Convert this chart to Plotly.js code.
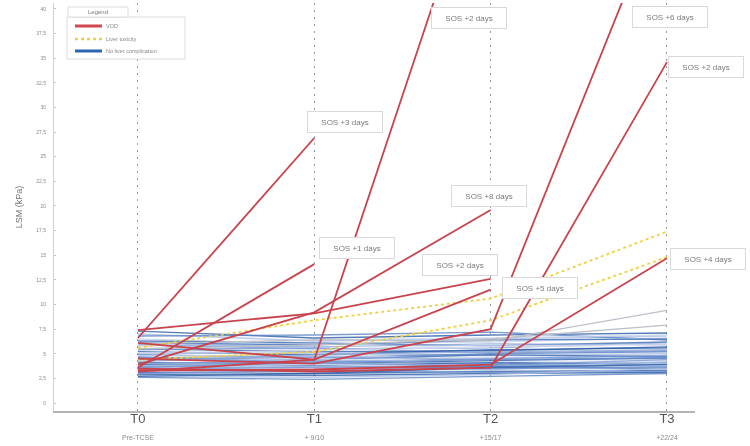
<!DOCTYPE html>
<html>
<head>
<meta charset="utf-8">
<script src="https://cdn.plot.ly/plotly-3.0.1.min.js"></script>
<style>
  html, body { margin: 0; padding: 0; background: #fff; }
  #chart { width: 750px; height: 446px; filter: blur(0.35px); }
</style>
</head>
<body>
<div id="chart"></div>
<script>
// time points and their sub labels
var timepoints = ["T0", "T1", "T2", "T3"];
var timeLabels = ["Pre-TCSE", "+ 9/10", "+15/17", "+22/24"];

// VOD patients, LSM (kPa) per time point, null after diagnosis
var vodA = [6.6, 26.9, null, null];
var vodB = [3.6, 14.1, null, null];
var vodC = [3.2, 4.4, 58, null];
var vodD = [3.9, 9.2, 19.6, null];
var vodE = [7.4, 9.1, 12.6, null];
var vodF = [6.1, 4.4, 11.5, null];
var vodG = [4.5, 4.0, 7.5, 52];
var vodH = [3.5, 3.2, 3.6, 34.6];
var vodI = [3.3, 3.4, 3.9, 14.7];
var vodLabels = ["SOS +3 days", "SOS +1 days", "SOS +2 days", "SOS +8 days", "SOS +2 days",
                 "SOS +5 days", "SOS +6 days", "SOS +2 days", "SOS +4 days"];

// liver toxicity
var toxA = [5.6, 8.4, 10.6, 17.4];
var toxB = [4.4, 5.2, 8.4, 14.8];

// no liver complication
var noComp = [
  [7.3, 6.6, 6.9, 7.1], [7.0, 6.3, 6.5, 6.8], [6.8, 6.9, 7.2, 6.4], [6.5, 6.0, 6.2, 6.6],
  [6.3, 6.1, 5.8, 6.2], [6.0, 5.7, 6.0, 5.9], [5.9, 5.5, 5.6, 6.1], [5.7, 5.4, 5.9, 5.5],
  [5.5, 5.2, 5.3, 5.7], [5.4, 5.6, 5.1, 5.3], [5.2, 4.9, 5.4, 5.6], [5.0, 5.1, 4.8, 5.0],
  [4.9, 4.6, 5.0, 5.2], [4.8, 4.8, 4.6, 4.9], [4.6, 4.4, 4.9, 4.7], [4.5, 4.7, 4.4, 4.5],
  [4.4, 4.2, 4.5, 4.8], [4.3, 4.5, 4.2, 4.3], [4.1, 4.0, 4.3, 4.6], [4.0, 4.3, 4.0, 4.1],
  [3.9, 3.8, 4.1, 3.9], [3.8, 4.0, 3.7, 4.2], [3.7, 3.6, 3.9, 3.7], [3.6, 3.9, 3.6, 3.8],
  [3.5, 3.4, 3.7, 3.5], [3.4, 3.7, 3.4, 4.0], [3.3, 3.2, 3.5, 3.6], [3.2, 3.5, 3.3, 3.4],
  [3.1, 3.0, 3.2, 3.3], [3.0, 3.3, 3.1, 3.2], [2.9, 2.8, 3.0, 3.1], [2.8, 2.6, 2.9, 3.5],
  [2.6, 2.4, 2.7, 3.0], [5.8, 6.4, 6.6, 6.9], [6.1, 5.9, 6.4, 6.5], [4.2, 4.9, 5.2, 5.4],
  [3.6, 4.1, 4.4, 4.6], [5.1, 5.3, 5.7, 6.0], [2.7, 3.0, 3.6, 3.9], [4.7, 4.1, 3.8, 4.4]
];
var noCompHigh = [[6.0, 6.4, 6.3, 9.4], [5.5, 5.9, 6.5, 7.9]];

// pixel -> paper helpers (plot area 54..695 x 3..411)
function px(x) { return (x - 54) / 641; }
function py(y) { return (411 - y) / 408; }

var blues = ["#2b5ca6", "#a9bde3", "#5a82c4", "#c8d4ec", "#3d6bb3", "#8ea8d8",
             "#6f92cf", "#d3dcef", "#2f5fa8", "#7b9bd2"];

var data = [];
noComp.forEach(function (v, i) {
  data.push({x: timepoints, y: v, type: "scatter", mode: "lines", showlegend: false,
    line: {color: blues[i % blues.length], width: 1.4}, opacity: 0.8});
});
noCompHigh.forEach(function (v) {
  data.push({x: timepoints, y: v, type: "scatter", mode: "lines", showlegend: false,
    line: {color: "#bcc0c8", width: 1.3}});
});
[toxA, toxB].forEach(function (v) {
  data.push({x: timepoints, y: v, type: "scatter", mode: "lines", showlegend: false,
    line: {color: "#f2cf3e", width: 1.8, dash: "dot"}});
});
[vodA, vodB, vodC, vodD, vodE, vodF, vodG, vodH, vodI].forEach(function (v, i) {
  data.push({x: timepoints, y: v, type: "scatter", mode: "lines", showlegend: false,
    name: vodLabels[i], line: {color: "#c9434d", width: 1.8}});
});

// label boxes: pixel centres of the reference boxes
var sosPos = [[345, 122], [357, 248], [469, 18], [489, 196], [460, 265],
              [540, 288], [670, 17], [706, 67], [708, 259]];

var annotations = sosPos.map(function (p, i) {
  return {xref: "paper", yref: "paper", x: px(p[0]), y: py(p[1]), text: vodLabels[i],
    xanchor: "center", yanchor: "middle",
    showarrow: false, font: {size: 8, color: "#7a7a7a"}, bgcolor: "#fff",
    bordercolor: "#d9d9d9", borderwidth: 1, borderpad: 5, width: 64, height: 10};
});

// hand made legend
annotations.push({xref: "paper", yref: "paper", x: px(98), y: py(12), text: "Legend",
  xanchor: "center", yanchor: "middle", showarrow: false, font: {size: 6, color: "#777"}});
var legendNames = ["VOD", "Liver toxicity", "No liver complication"];
var legendY = [26, 39, 51];
legendNames.forEach(function (n, i) {
  annotations.push({xref: "paper", yref: "paper", x: px(104), y: py(legendY[i]), text: n,
    xanchor: "left", yanchor: "middle", showarrow: false, font: {size: 5.5, color: "#888"}});
});

var shapes = [
  {type: "rect", xref: "paper", yref: "paper", x0: px(67), x1: px(185), y0: py(59), y1: py(17),
   line: {color: "#dcdcdc", width: 1}, fillcolor: "#fff"},
  {type: "rect", xref: "paper", yref: "paper", x0: px(68), x1: px(128), y0: py(17), y1: py(7),
   line: {color: "#dcdcdc", width: 1}, fillcolor: "#fff"},
  {type: "line", xref: "paper", yref: "paper", x0: px(75), x1: px(102), y0: py(26), y1: py(26),
   line: {color: "#d0474f", width: 3}},
  {type: "line", xref: "paper", yref: "paper", x0: px(75), x1: px(102), y0: py(39), y1: py(39),
   line: {color: "#f2cf3e", width: 2.5, dash: "dot"}},
  {type: "line", xref: "paper", yref: "paper", x0: px(75), x1: px(102), y0: py(51), y1: py(51),
   line: {color: "#2c64ad", width: 3}}
];

var tickText = timepoints.map(function (t, i) {
  return t + "<br><span style='font-size:7px;color:#888'>" + timeLabels[i] + "</span>";
});

var layout = {
  width: 750, height: 446,
  margin: {l: 54, r: 55, t: 3, b: 35},
  paper_bgcolor: "#fff", plot_bgcolor: "#fff",
  separators: ", ",
  font: {family: "Liberation Sans Narrow, Liberation Sans, Arial, sans-serif", color: "#666"},
  xaxis: {
    type: "category", range: [-0.476, 3.159], tickmode: "array",
    tickvals: timepoints, ticktext: tickText,
    tickfont: {size: 13, color: "#555"},
    showline: true, linecolor: "#b4b4b4", linewidth: 2,
    showgrid: true, gridcolor: "#9a9a9a", gridwidth: 1, griddash: "2px,5px",
    ticks: "", zeroline: false, ticklabelstandoff: -6
  },
  yaxis: {
    range: [-0.81, 40.6], tickmode: "linear", tick0: 0, dtick: 2.5,
    tickfont: {size: 5, color: "#888"},
    ticks: "inside", ticklen: 2, tickcolor: "#c8c8c8",
    showline: true, linecolor: "#d0d0d0", linewidth: 1,
    showgrid: false, zeroline: false, ticklabelstandoff: 6,
    title: {text: "LSM (kPa)", font: {size: 9, color: "#777"}, standoff: 12}
  },
  shapes: shapes,
  annotations: annotations
};

Plotly.newPlot("chart", data, layout, {displayModeBar: false, staticPlot: true});
</script>
</body>
</html>
